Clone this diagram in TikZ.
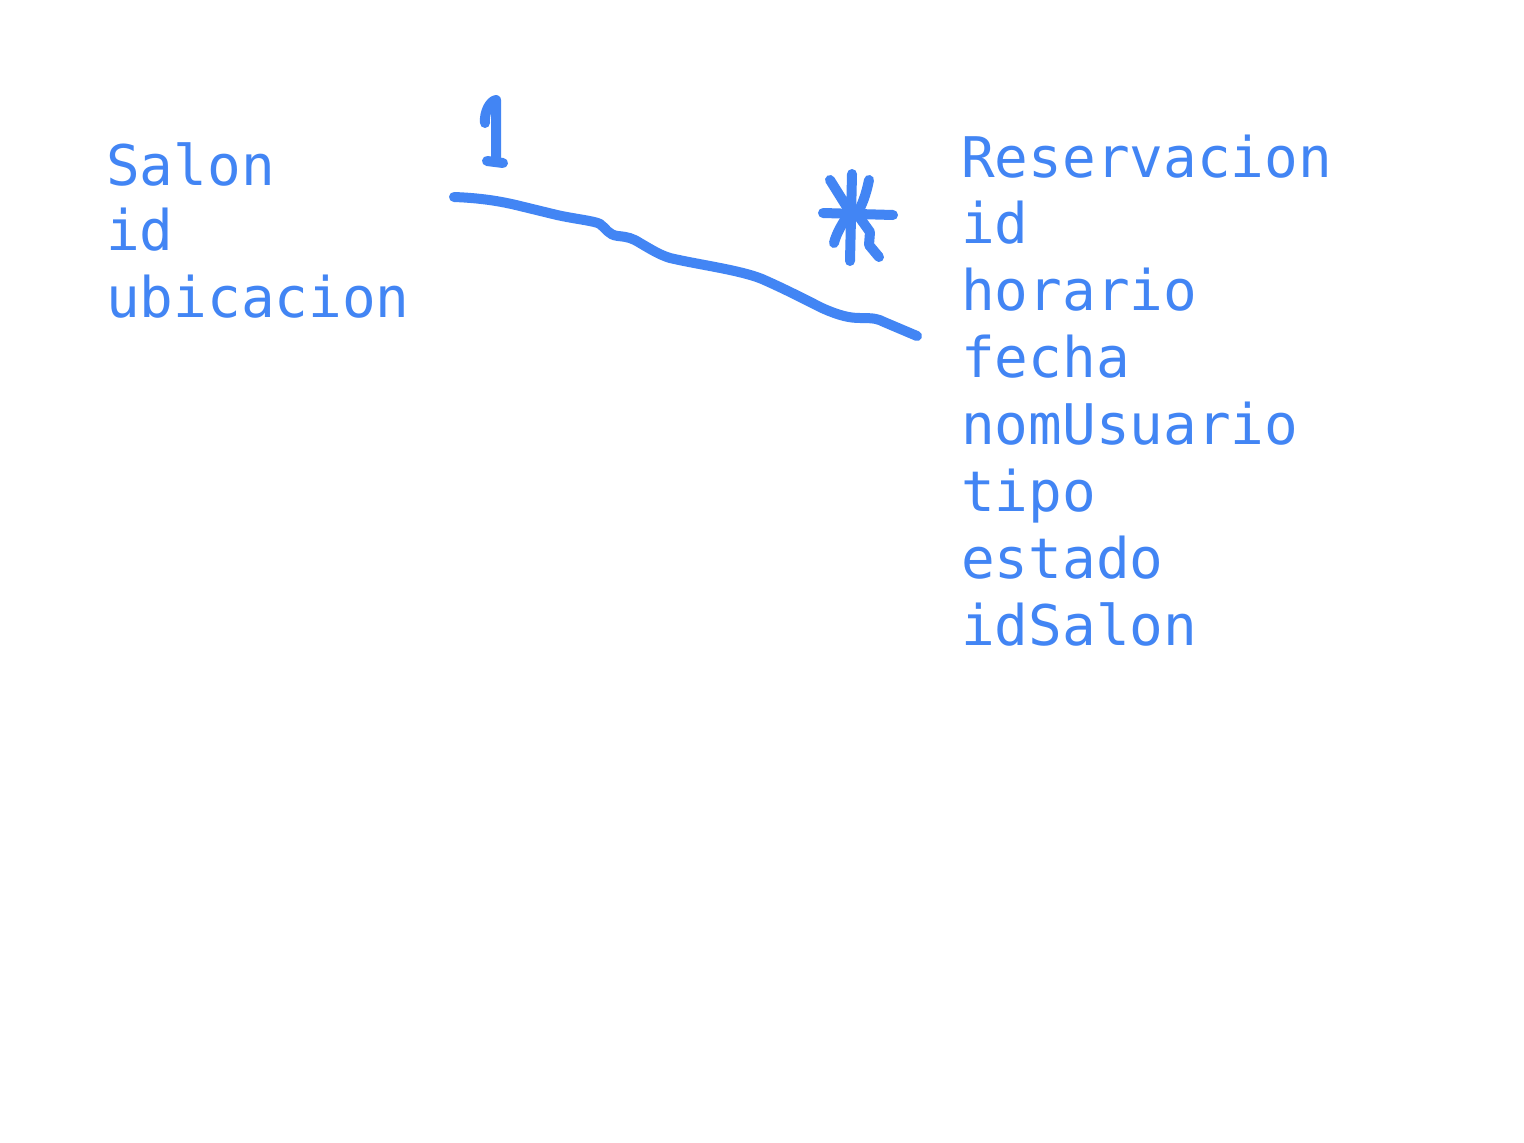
\documentclass[tikz,border=0pt]{standalone}
\usepackage{fontspec}
\setmonofont{DejaVu Sans Mono}
\definecolor{gblue}{RGB}{66,133,244}
\begin{document}
\begin{tikzpicture}[x=1pt,y=-1pt,
  field/.style={anchor=base west,inner sep=0pt,text=gblue,font=\ttfamily\fontsize{56}{67}\selectfont},
  ink/.style={draw=gblue,line width=10pt,line cap=round,line join=round}]
\useasboundingbox (0,0) rectangle (1524,1143);
\fill[white] (0,0) rectangle (1524,1143);
% Salon entity
\node[field] (s1) at (106,185) {Salon};
\node[field] (s2) at (106,250) {id};
\node[field] (s3) at (106,317) {ubicacion};
% Reservacion entity
\node[field] (r1) at (961,177) {Reservacion};
\node[field] (r2) at (961,243) {id};
\node[field] (r3) at (961,310) {horario};
\node[field] (r4) at (961,377) {fecha};
\node[field] (r5) at (961,444) {nomUsuario};
\node[field] (r6) at (961,511) {tipo};
\node[field] (r7) at (961,578) {estado};
\node[field] (r8) at (961,645) {idSalon};
% connector ends
\coordinate (ca) at (454,197);
\coordinate (cb) at (917,336);
\draw[ink] (ca) .. controls (480,198) and (500,201) .. (520,206)
  -- (557,215) .. controls (575,219) and (595,221) .. (600,224)
  .. controls (606,228) and (608,235) .. (618,236)
  .. controls (628,237) and (632,238) .. (640,243)
  .. controls (652,250) and (660,255) .. (670,258)
  .. controls (700,265) and (740,270) .. (762,279)
  .. controls (785,289) and (810,302) .. (822,308)
  .. controls (840,316) and (850,318) .. (860,318)
  .. controls (875,318) and (878,319) .. (884,322)
  -- (cb);
% multiplicity 1
\draw[ink] (485,123) .. controls (484,112) and (490,101) .. (496,100) -- (496,160);
\draw[ink] (487,161) -- (503,163);
% multiplicity *
\draw[ink] (852,174) -- (850,261);
\draw[ink] (823,213) -- (893,215);
\draw[ink] (830,180) -- (850,212) .. controls (843,222) and (836,234) .. (834,243);
\draw[ink] (869,180) .. controls (866,195) and (862,205) .. (857,214) -- (870,232) -- (869,245) -- (879,257);
\end{tikzpicture}
\end{document}
